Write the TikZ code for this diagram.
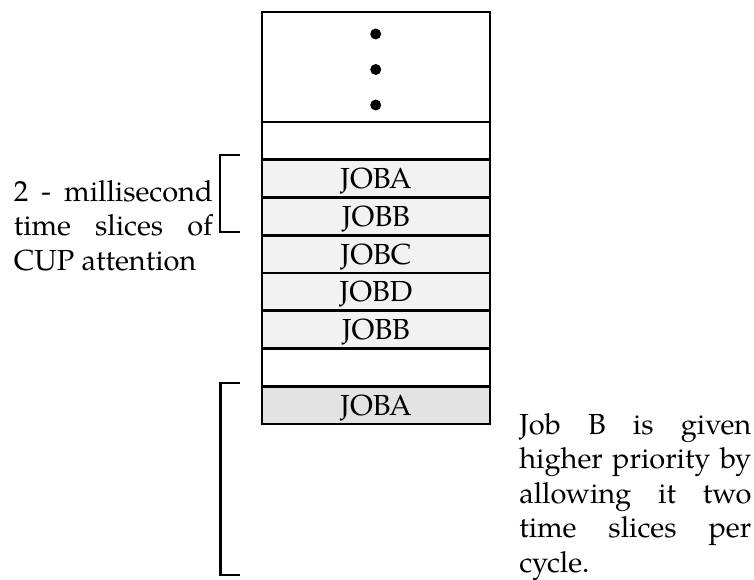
\documentclass[tikz,border=0pt]{standalone}
\usepackage{fontspec}
\setmainfont{TeX Gyre Pagella}
\definecolor{rowfill}{HTML}{F2F2F2}
\definecolor{lastfill}{HTML}{E3E3E3}
\begin{document}
\begin{tikzpicture}[x=1pt, y=-1pt, line width=2.6pt,
  bodyfont/.style={font=\fontsize{29}{34.5}\selectfont},
  slot/.style={draw, bodyfont, minimum width=228pt, minimum height=37.75pt,
    inner sep=0pt, outer sep=0pt, text height=20pt, text depth=0pt},
  dotmark/.style={circle, fill, inner sep=0pt, minimum size=11pt},
  note/.style={bodyfont, inner sep=0pt, align=justify,
    execute at begin node={\hyphenpenalty=10000\tolerance=10000}},
  bracket/.style={line width=2.4pt}]
\useasboundingbox (0,0) rectangle (754,580);

% queue of time slices
\node[slot, minimum height=110pt] (head) at (376,67) {};
\node[dotmark] (d1) at (375.7,34) {};
\node[dotmark] (d2) at (375.7,69.5) {};
\node[dotmark] (d3) at (375.7,105) {};
\node[slot] (gap1) at (376,140.9) {};
\node[slot, fill=rowfill] (s1) at (376,178.6) {JOBA};
\node[slot, fill=rowfill] (s2) at (376,216.4) {JOBB};
\node[slot, fill=rowfill] (s3) at (376,254.1) {JOBC};
\node[slot, fill=rowfill] (s4) at (376,291.9) {JOBD};
\node[slot, fill=rowfill] (s5) at (376,329.6) {JOBB};
\node[slot] (gap2) at (376,367.4) {};
\node[slot, fill=lastfill] (s6) at (376,405.1) {JOBA};

% brackets
\draw[bracket] (240,155) -- (220,155) -- (220,232) -- (240,232);
\draw[bracket] (240,383) -- (220.5,383) -- (220.5,575) -- (240,575);

% annotations
\node[note, text width=199pt, anchor=base west] (slicenote) at (12.5,201)
  {2 - millisecond\linebreak time slices of\linebreak CUP attention};
\node[note, text width=232pt, anchor=base west] (prionote) at (518,434)
  {Job B is given\linebreak higher priority by\linebreak allowing it two\linebreak time slices per\linebreak cycle.};
\end{tikzpicture}
\end{document}
